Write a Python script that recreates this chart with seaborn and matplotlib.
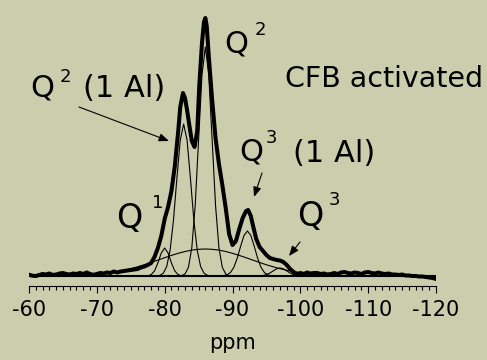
import matplotlib
matplotlib.use("Agg")
import matplotlib.pyplot as plt
import seaborn as sns
from matplotlib.ticker import MultipleLocator, FixedLocator

# ---------------- data ----------------
# measured spectrum (thick line), chemical shift in ppm and intensity (a.u.)
total_ppm = [-60, -60.5, -61, -61.5, -62, -62.5, -63, -63.5, -64, -64.5, -65, -65.5,
             -66, -66.5, -67, -67.5, -68, -68.5, -69, -69.5, -70, -70.5, -71, -71.5,
             -72, -72.5, -73, -73.5, -74, -74.5, -75, -75.5, -76, -76.5, -77, -77.5,
             -78, -78.5, -79, -79.5, -80, -80.5, -81, -81.5, -82, -82.3, -82.7, -83,
             -83.3, -83.7, -84, -84.4, -84.8, -85.1, -85.5, -85.8, -86, -86.2, -86.5,
             -87, -87.5, -88, -88.5, -89, -89.5, -90, -90.5, -91, -91.5, -92, -92.3,
             -92.7, -93, -93.5, -94, -94.5, -95, -95.5, -96, -96.5, -97, -97.5, -98,
             -98.5, -99, -99.5, -100, -100.5, -101, -101.5, -102, -102.5, -103,
             -103.5, -104, -104.5, -105, -105.5, -106, -106.5, -107, -107.5, -108,
             -108.5, -109, -109.5, -110, -110.5, -111, -111.5, -112, -112.5, -113,
             -113.5, -114, -114.5, -115, -115.5, -116, -116.5, -117, -117.5, -118,
             -118.5, -119, -119.5, -120]
total_int = [1.3, 0.3, 0, 1, 2, 1.5, 2.5, 1, 1.5, 2.5, 3, 2,
             1.5, 2.5, 2, 3, 2, 3.5, 2, 1.2, 2, 3, 2.5, 3.5,
             3, 4.5, 3.5, 4.5, 5, 5.5, 6, 6.5, 7, 8.5, 9.5, 11,
             13, 19, 28, 40, 57, 69, 85, 110, 145, 169, 183, 178,
             166, 148, 135, 129, 145, 190, 233, 254, 258, 250, 220,
             176, 138, 112, 91, 68, 42, 31, 35, 47, 58, 65, 66,
             60, 51, 37, 29, 25, 21, 18, 17, 16, 15.5, 14, 11,
             7, 4, 2, 3, 2, 3.5, 2.5, 3, 3, 2,
             2.5, 1.5, 2, 3, 2, 3.5, 4, 3, 2.5, 3.5,
             3, 2, 3.5, 4, 3, 2.5, 3.5, 2.5, 2, 2.5,
             1.5, 1.5, 1, 1.5, 0.5, 0.5, 0, 0, -0.5, -0.5,
             -1, -1.5, -2, -3]

# fitted components (thin lines)
q1_ppm = [-77, -77.5, -78, -78.5, -79, -79.5, -80, -80.5, -81, -81.5, -82, -82.5, -83]
q1_int = [0, 0.2, 1.3, 5, 13, 23, 28, 23, 13, 5, 1.3, 0.2, 0]

q2al_ppm = [-78.8, -79.3, -79.8, -80.3, -80.8, -81.3, -81.8, -82.3, -82.8, -83.3,
            -83.8, -84.3, -84.8, -85.3, -85.8, -86.3, -86.8]
q2al_int = [0.1, 0.7, 2.8, 9.5, 25.8, 56, 97.6, 136, 152, 136,
            97.6, 56, 25.8, 9.5, 2.8, 0.7, 0.1]

q2_ppm = [-82, -82.5, -83, -83.5, -84, -84.5, -85, -85.5, -86, -86.5, -87, -87.5,
          -88, -88.5, -89, -89.5, -90]
q2_int = [0, 0.4, 2.0, 8.6, 28.2, 70.5, 136, 201, 229, 201, 136, 70.5,
          28.2, 8.6, 2.0, 0.4, 0]

q3al_ppm = [-88.2, -88.7, -89.2, -89.7, -90.2, -90.7, -91.2, -91.7, -92.2, -92.7,
            -93.2, -93.7, -94.2, -94.7, -95.2, -95.7, -96.2]
q3al_int = [0, 0.3, 1.1, 3.5, 8.7, 17.9, 29.8, 40.6, 45, 40.6,
            29.8, 17.9, 8.7, 3.5, 1.1, 0.3, 0]

q3_ppm = [-94, -94.5, -95, -95.5, -96, -96.5, -97, -97.5, -98, -98.5, -99, -99.5, -100]
q3_int = [0.15, 0.5, 1.4, 2.9, 5.1, 7.2, 8, 7.2, 5.1, 2.9, 1.4, 0.5, 0.15]

broad_ppm = [-70, -71, -72, -73, -74, -75, -76, -77, -78, -79, -80, -81, -82, -83,
             -84, -85, -86, -87, -88, -89, -90, -91, -92, -93, -94, -95, -96, -97,
             -98, -99, -100, -101, -102]
broad_int = [1.7, 2.4, 3.2, 4.3, 5.7, 7.3, 9.2, 11.2, 13.5, 15.9, 18.3, 20.6, 22.7, 24.5,
             25.9, 26.7, 27, 26.7, 25.9, 24.5, 22.7, 20.6, 18.3, 15.9, 13.5, 11.2, 9.2, 7.3,
             5.7, 4.3, 3.2, 2.4, 1.7]

major_ticks = [-60, -70, -80, -90, -100, -110, -120]
tick_labels = ["-60", "-70", "-80", "-90", "-100", "-110", "-120"]

# ---------------- style ----------------
sns.set_theme(style="white")
plt.rcParams["font.family"] = ["DejaVu Sans"]
plt.rcParams["axes.unicode_minus"] = False

W, H = 487, 360
BG = "#cbceac"

def P(x, y):
    return (x / W, 1 - y / H)

fig = plt.figure(figsize=(W / 100, H / 100), dpi=100, facecolor=BG)
ax = fig.add_axes([29 / W, 1 - 286 / H, 407 / W, 286 / H])
ax.set_facecolor(BG)

# zero line
ax.axhline(0, color="black", lw=1.5, zorder=2)

for xs, ys in [(broad_ppm, broad_int), (q1_ppm, q1_int), (q2al_ppm, q2al_int),
               (q2_ppm, q2_int), (q3al_ppm, q3al_int), (q3_ppm, q3_int)]:
    sns.lineplot(x=xs, y=ys, ax=ax, color="black", linewidth=0.8, sort=False,
                 estimator=None, zorder=3)

sns.lineplot(x=total_ppm, y=total_int, ax=ax, color="black", linewidth=2.9,
             sort=False, estimator=None, zorder=4)

ax.set_xlim(-60, -120)
ax.set_ylim(-10, 276)
ax.set_yticks([])
for s in ["left", "right", "top"]:
    ax.spines[s].set_visible(False)
ax.spines["bottom"].set_color("black")
ax.spines["bottom"].set_linewidth(0.8)

ax.xaxis.set_major_locator(FixedLocator(major_ticks))
ax.set_xticklabels(tick_labels)
ax.xaxis.set_minor_locator(MultipleLocator(1))
ax.tick_params(axis="x", which="both", bottom=True, direction="out", color="black",
               width=0.8)
ax.tick_params(axis="x", which="major", length=5, pad=5, labelsize=15, labelcolor="black")
ax.tick_params(axis="x", which="minor", length=3)
ax.set_xlabel("")

fig.text(*P(232.5, 349), "ppm", ha="center", va="baseline", fontsize=15, color="black")

# ---------------- annotations ----------------
sup = 13
def label(x, y, text, size):
    fig.text(*P(x, y), text, ha="left", va="baseline", fontsize=size, color="black")

# Q2 (top)
label(224, 53, "Q", 22)
label(255, 35, "2", sup)
# Q2 (1 Al)
label(30, 97, "Q", 22)
label(60, 82, "2", sup)
label(83, 97, "(1 Al)", 22)
# CFB activated
label(285, 87, "CFB activated", 20.5)
# Q3 (1 Al)
label(239, 161, "Q", 22)
label(266, 143, "3", sup)
label(293, 162, "(1 Al)", 22)
# Q1
label(116, 228, "Q", 24)
label(152, 208, "1", sup)
# Q3
label(297, 226, "Q", 24)
label(329, 205, "3", sup)

arrows = [((79, 107), (169, 141)), ((262, 173), (254, 197)), ((300, 242), (289, 256))]
for (x0, y0), (x1, y1) in arrows:
    ax.annotate("", xy=P(x1, y1), xytext=P(x0, y0), xycoords="figure fraction",
                textcoords="figure fraction",
                arrowprops=dict(arrowstyle="-|>,head_length=0.5,head_width=0.2",
                                color="black", lw=0.8, shrinkA=0, shrinkB=0))

fig.savefig("out.png", dpi=100, facecolor=BG)
